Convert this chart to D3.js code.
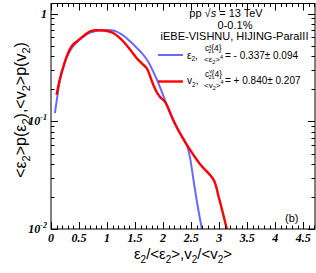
<!DOCTYPE html>
<html>
<head>
<meta charset="utf-8">
<script src="https://cdn.jsdelivr.net/npm/d3@7"></script>
<style>
  body { margin: 0; background: #fff; }
  svg { display: block; }
</style>
</head>
<body>
<script>
// eccentricity distribution (blue) and flow distribution (red), scaled
const epsX = [0.07, 0.12, 0.16, 0.22, 0.28, 0.34, 0.40, 0.49, 0.58, 0.67, 0.76, 0.87, 0.99, 1.08, 1.17, 1.26, 1.35, 1.44, 1.53, 1.62, 1.71, 1.77, 1.88, 2.00, 2.12, 2.27, 2.42, 2.48, 2.54, 2.62, 2.70];
const epsY = [0.119, 0.18, 0.24, 0.32, 0.39, 0.45, 0.50, 0.56, 0.61, 0.655, 0.68, 0.70, 0.705, 0.70, 0.68, 0.64, 0.59, 0.535, 0.48, 0.43, 0.375, 0.33, 0.25, 0.175, 0.12, 0.083, 0.061, 0.046, 0.029, 0.016, 0.0095];
const vX = [0.10, 0.16, 0.22, 0.28, 0.34, 0.40, 0.46, 0.58, 0.70, 0.80, 0.93, 1.02, 1.11, 1.20, 1.29, 1.41, 1.53, 1.62, 1.71, 1.77, 1.83, 1.89, 1.95, 2.04, 2.18, 2.27, 2.42, 2.66, 2.90, 2.99, 3.06, 3.14];
const vY = [0.176, 0.25, 0.32, 0.40, 0.47, 0.52, 0.55, 0.62, 0.685, 0.70, 0.695, 0.685, 0.66, 0.61, 0.55, 0.465, 0.385, 0.345, 0.31, 0.26, 0.215, 0.185, 0.167, 0.150, 0.103, 0.083, 0.0606, 0.040, 0.0287, 0.020, 0.0145, 0.0098];

const xMajor = [0, 0.5, 1, 1.5, 2, 2.5, 3, 3.5, 4, 4.5];
const xLabels = ["0", "0.5", "1", "1.5", "2", "2.5", "3", "3.5", "4", "4.5"];
const yMajor = [0.01, 0.1, 1];
const yLabels = [["10", "-2"], ["10", "-1"], ["1", ""]];

(function() {
const W = 316, H = 273;
const pL = 51, pR = 315, pT = 3.5, pB = 229;

const x = d3.scaleLinear().domain([0, 4.71]).range([pL, pR]);
const y = d3.scaleLog().domain([0.01, 1.24]).range([pB, pT]);

const svg = d3.select("body").append("svg")
    .attr("width", W).attr("height", H)
    .style("font-family", "'Liberation Sans', Arial, sans-serif");

svg.append("rect").attr("width", W).attr("height", H).attr("fill", "#fff");

svg.append("clipPath").attr("id", "clip")
  .append("rect").attr("x", pL).attr("y", pT)
  .attr("width", pR - pL).attr("height", pB - pT);

// curves
const line = d3.line()
    .x(d => x(d[0])).y(d => y(d[1]))
    .curve(d3.curveCatmullRom.alpha(0.5));

const g = svg.append("g").attr("clip-path", "url(#clip)");
g.append("path").datum(d3.zip(epsX, epsY))
    .attr("d", line).attr("fill", "none")
    .attr("stroke", "#6868ff").attr("stroke-width", 2);
g.append("path").datum(d3.zip(vX, vY))
    .attr("d", line).attr("fill", "none")
    .attr("stroke", "#ff0000").attr("stroke-width", 2.4);

// frame
svg.append("rect")
    .attr("x", pL).attr("y", pT)
    .attr("width", pR - pL).attr("height", pB - pT)
    .attr("fill", "none").attr("stroke", "#000").attr("stroke-width", 1);

// ticks
const ticks = svg.append("g").attr("stroke", "#000").attr("stroke-width", 1);
const xMinor = d3.range(0, 48).map(i => i / 10).filter(v => v <= 4.71);
xMinor.forEach(v => {
  const major = Math.abs(v * 2 - Math.round(v * 2)) < 1e-6;
  const len = major ? 7 : 3.5;
  const px = Math.round(x(v)) + 0.5;
  ticks.append("line").attr("x1", px).attr("x2", px).attr("y1", pB).attr("y2", pB - len);
  ticks.append("line").attr("x1", px).attr("x2", px).attr("y1", pT).attr("y2", pT + len);
});
const yTicks = [];
[0.01, 0.1, 1].forEach(d => {
  for (let k = 1; k <= 9; k++) {
    const v = d * k;
    if (v <= 1.24) yTicks.push([v, k === 1]);
  }
});
yTicks.forEach(([v, major]) => {
  const len = major ? 7 : 3.5;
  const py = Math.round(y(v)) + 0.5;
  ticks.append("line").attr("x1", pL).attr("x2", pL + len).attr("y1", py).attr("y2", py);
  ticks.append("line").attr("x1", pR).attr("x2", pR - len).attr("y1", py).attr("y2", py);
});

// tick labels
const tl = svg.append("g")
    .style("font-family", "'Liberation Serif', 'Times New Roman', serif")
    .style("font-weight", "bold").style("font-style", "italic")
    .style("font-size", "12px");
xMajor.forEach((v, i) => {
  tl.append("text").attr("x", x(v)).attr("y", 242)
    .attr("text-anchor", "middle").text(xLabels[i]);
});
yMajor.forEach((v, i) => {
  const t = tl.append("text").attr("x", 47).attr("y", y(v) + 4).attr("text-anchor", "end");
  t.append("tspan").text(yLabels[i][0]);
  if (yLabels[i][1]) {
    t.append("tspan").attr("dy", -5).style("font-size", "8px").text(yLabels[i][1]);
  }
});

// axis titles: pieces are [text, subscript?]
function rich(t, parts, fs) {
  let down = false;
  parts.forEach(([s, isSub]) => {
    const sp = t.append("tspan").text(s);
    if (isSub && !down) { sp.attr("dy", 4).style("font-size", fs); down = true; }
    else if (isSub) sp.style("font-size", fs);
    else if (down) { sp.attr("dy", -4); down = false; }
  });
}
const xt = svg.append("text").attr("x", (pL + pR) / 2).attr("y", 259)
    .attr("text-anchor", "middle").style("font-size", "15px");
rich(xt, [["ε"], ["2", 1], ["/<ε"], ["2", 1], [">,v"], ["2", 1], ["/<v"], ["2", 1], [">"]], "10px");

const yt = svg.append("text")
    .attr("transform", "translate(26,110) rotate(-90)")
    .attr("text-anchor", "middle").style("font-size", "16px");
rich(yt, [["<ε"], ["2", 1], [">p(ε"], ["2", 1], ["),<v"], ["2", 1], [">p(v"], ["2", 1], [")"]], "11px");

// header
const hdr = svg.append("g").style("font-size", "11px").attr("text-anchor", "middle");
const h1 = hdr.append("text").attr("x", 226).attr("y", 17);
h1.append("tspan").text("pp \u221A");
h1.append("tspan").style("font-style", "italic").text("s");
h1.append("tspan").text(" = 13 TeV");
hdr.append("text").attr("x", 235).attr("y", 29).text("0-0.1%");
hdr.append("text").attr("x", 234.5).attr("y", 40).text("iEBE-VISHNU, HIJING-ParaIII");

// legend entries
const legend = [
  { color: "#6868ff", width: 2, sym: "ε", sup: "ε", val: "= - 0.337\u00B1 0.094", yl: 55, yb: 58.5 },
  { color: "#ff0000", width: 2.4, sym: "v", sup: "v", val: "= + 0.840\u00B1 0.207", yl: 81.5, yb: 84 }
];
legend.forEach(e => {
  svg.append("line").attr("x1", 158).attr("x2", 183).attr("y1", e.yl).attr("y2", e.yl)
    .attr("stroke", e.color).attr("stroke-width", e.width);
  const t = svg.append("text").attr("x", 187).attr("y", e.yb).style("font-size", "10px");
  t.append("tspan").text(e.sym);
  t.append("tspan").attr("dy", 2.5).style("font-size", "6.5px").text("2");
  t.append("tspan").attr("dy", -2.5).text(",");
  const num = svg.append("text").attr("x", 205).attr("y", e.yb - 7.5).style("font-size", "8.5px");
  num.append("tspan").text("c");
  num.append("tspan").attr("dy", -3.5).style("font-size", "5.5px").text(e.sup);
  num.append("tspan").attr("dx", -3.5).attr("dy", 5.5).style("font-size", "5.5px").text("2");
  num.append("tspan").attr("dy", -2).text("{4}");
  const den = svg.append("text").attr("x", 204).attr("y", e.yb + 3.5).style("font-size", "8px");
  den.append("tspan").text("<" + e.sym);
  den.append("tspan").attr("dy", 2).style("font-size", "5.5px").text("2");
  den.append("tspan").attr("dy", -2).text(">");
  den.append("tspan").attr("dy", -3.5).style("font-size", "5.5px").text("4");
  svg.append("text").attr("x", 225).attr("y", e.yb).style("font-size", "10px").text(e.val);
});

svg.append("text").attr("x", 285).attr("y", 222).style("font-size", "11px").text("(b)");
})();
</script>
</body>
</html>
